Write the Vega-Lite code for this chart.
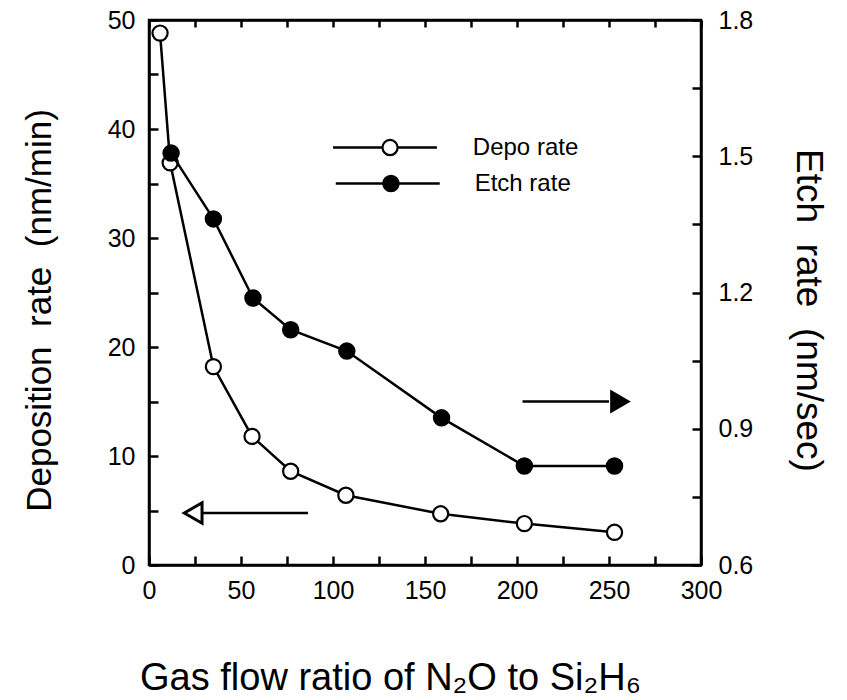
{
  "$schema": "https://vega.github.io/schema/vega-lite/v6.json",
  "autosize": "none",
  "width": 552,
  "height": 545,
  "padding": {"left": 149, "top": 20, "right": 146, "bottom": 135},
  "background": "white",
  "config": {
    "view": {"stroke": "black", "strokeWidth": 2.5},
    "font": "Liberation Sans",
    "axis": {
      "domainColor": "black", "domainWidth": 2.5, "tickColor": "black", "tickWidth": 2.5,
      "tickSize": -9, "grid": false, "labelFont": "Liberation Sans", "labelFontSize": 25,
      "labelColor": "black", "titleFont": "Liberation Sans", "titleFontSize": 35,
      "titleFontWeight": "normal", "titleColor": "black", "labelFlush": false, "labelOverlap": false
    }
  },
  "datasets": {
    "depo": [
      {"ratio": 6, "rate": 48.8},
      {"ratio": 11.5, "rate": 36.9},
      {"ratio": 35, "rate": 18.2},
      {"ratio": 56, "rate": 11.8},
      {"ratio": 77, "rate": 8.6},
      {"ratio": 107, "rate": 6.4},
      {"ratio": 158.5, "rate": 4.7},
      {"ratio": 204, "rate": 3.8},
      {"ratio": 253, "rate": 3.0}
    ],
    "etch": [
      {"ratio": 12, "rate": 1.507},
      {"ratio": 35, "rate": 1.362},
      {"ratio": 56.5, "rate": 1.188},
      {"ratio": 77, "rate": 1.118},
      {"ratio": 107.5, "rate": 1.071},
      {"ratio": 159, "rate": 0.924},
      {"ratio": 204, "rate": 0.818},
      {"ratio": 253, "rate": 0.818}
    ],
    "legend": [
      {"series": "Depo rate", "x1": 100, "x2": 156.5, "xc": 131, "xt": 176, "y": 38.3},
      {"series": "Etch rate", "x1": 101.5, "x2": 158, "xc": 131.5, "xt": 177, "y": 35.0}
    ],
    "arrows": [
      {"dir": "right", "x1": 203, "x2": 250, "xh": 256, "y": 15.0},
      {"dir": "left", "x1": 24, "x2": 86.4, "xh": 24, "y": 4.77}
    ]
  },
  "layer": [
    {
      "layer": [
        {
          "data": {"name": "depo"},
          "mark": {"type": "line", "color": "black", "strokeWidth": 2.5},
          "encoding": {
            "x": {"field": "ratio", "type": "quantitative",
              "scale": {"domain": [0, 300], "nice": false, "zero": false},
              "axis": {"orient": "bottom", "values": [0,25,50,75,100,125,150,175,200,225,250,275,300],
                "labelExpr": "datum.value % 50 === 0 ? datum.label : ''", "labelPadding": 22,
                "title": "Gas flow ratio of N₂O to Si₂H₆", "titlePadding": 56, "titleX": 241, "titleAnchor": "middle", "titleFontSize": 38}},
            "y": {"field": "rate", "type": "quantitative",
              "scale": {"domain": [0, 50], "nice": false},
              "axis": {"orient": "left", "values": [0,5,10,15,20,25,30,35,40,45,50],
                "labelExpr": "datum.value % 10 === 0 ? datum.label : ''", "labelPadding": 23,
                "title": "Deposition\u00a0\u00a0rate\u00a0\u00a0(nm/min)", "titlePadding": 50, "titleY": 290}}
          }
        },
        {
          "data": {"name": "depo"},
          "mark": {"type": "point", "shape": "circle", "filled": true, "fill": "white", "stroke": "black", "strokeWidth": 2.2, "size": 230, "opacity": 1},
          "encoding": {
            "x": {"field": "ratio", "type": "quantitative"},
            "y": {"field": "rate", "type": "quantitative"}
          }
        },
        {
          "data": {"name": "legend"},
          "mark": {"type": "rule", "color": "black", "strokeWidth": 2.5},
          "encoding": {
            "x": {"field": "x1", "type": "quantitative"},
            "x2": {"field": "x2"},
            "y": {"field": "y", "type": "quantitative"}
          }
        },
        {
          "data": {"name": "legend"},
          "transform": [{"filter": "datum.series === 'Depo rate'"}],
          "mark": {"type": "point", "shape": "circle", "filled": true, "fill": "white", "stroke": "black", "strokeWidth": 2.2, "size": 230, "opacity": 1},
          "encoding": {
            "x": {"field": "xc", "type": "quantitative"},
            "y": {"field": "y", "type": "quantitative"}
          }
        },
        {
          "data": {"name": "legend"},
          "transform": [{"filter": "datum.series === 'Etch rate'"}],
          "mark": {"type": "point", "shape": "circle", "filled": true, "fill": "black", "stroke": "black", "strokeWidth": 2, "size": 240, "opacity": 1},
          "encoding": {
            "x": {"field": "xc", "type": "quantitative"},
            "y": {"field": "y", "type": "quantitative"}
          }
        },
        {
          "data": {"name": "legend"},
          "mark": {"type": "text", "align": "left", "baseline": "middle", "fontSize": 24, "font": "Liberation Sans", "color": "black"},
          "encoding": {
            "x": {"field": "xt", "type": "quantitative"},
            "y": {"field": "y", "type": "quantitative"},
            "text": {"field": "series"}
          }
        },
        {
          "data": {"name": "arrows"},
          "mark": {"type": "rule", "color": "black", "strokeWidth": 2.5},
          "encoding": {
            "x": {"field": "x1", "type": "quantitative"},
            "x2": {"field": "x2"},
            "y": {"field": "y", "type": "quantitative"}
          }
        },
        {
          "data": {"name": "arrows"},
          "transform": [{"filter": "datum.dir === 'right'"}],
          "mark": {"type": "point", "shape": "triangle-right", "filled": true, "fill": "black", "stroke": "black", "strokeWidth": 2, "size": 420, "opacity": 1},
          "encoding": {
            "x": {"field": "xh", "type": "quantitative"},
            "y": {"field": "y", "type": "quantitative"}
          }
        },
        {
          "data": {"name": "arrows"},
          "transform": [{"filter": "datum.dir === 'left'"}],
          "mark": {"type": "point", "shape": "triangle-left", "filled": true, "fill": "white", "stroke": "black", "strokeWidth": 3, "size": 420, "opacity": 1},
          "encoding": {
            "x": {"field": "xh", "type": "quantitative"},
            "y": {"field": "y", "type": "quantitative"}
          }
        }
      ]
    },
    {
      "layer": [
        {
          "data": {"name": "etch"},
          "mark": {"type": "line", "color": "black", "strokeWidth": 2.5},
          "encoding": {
            "x": {"field": "ratio", "type": "quantitative",
              "axis": {"orient": "top", "values": [0,25,50,75,100,125,150,175,200,225,250,275,300], "labels": false, "title": null, "tickSize": -7}},
            "y": {"field": "rate", "type": "quantitative",
              "scale": {"domain": [0.6, 1.8], "nice": false, "zero": false},
              "axis": {"orient": "right", "values": [0.6,0.75,0.9,1.05,1.2,1.35,1.5,1.65,1.8],
                "labelExpr": "(round(datum.value*100) % 30 === 0) ? format(datum.value, '.1f') : ''", "labelPadding": 26,
                "title": "Etch\u00a0\u00a0rate\u00a0\u00a0(nm/sec)", "titlePadding": 36, "titleY": 290, "titleFontSize": 37}}
          }
        },
        {
          "data": {"name": "etch"},
          "mark": {"type": "point", "shape": "circle", "filled": true, "fill": "black", "stroke": "black", "strokeWidth": 2, "size": 240, "opacity": 1},
          "encoding": {
            "x": {"field": "ratio", "type": "quantitative"},
            "y": {"field": "rate", "type": "quantitative"}
          }
        }
      ]
    }
  ],
  "resolve": {"scale": {"y": "independent"}, "axis": {"x": "independent", "y": "independent"}}
}
